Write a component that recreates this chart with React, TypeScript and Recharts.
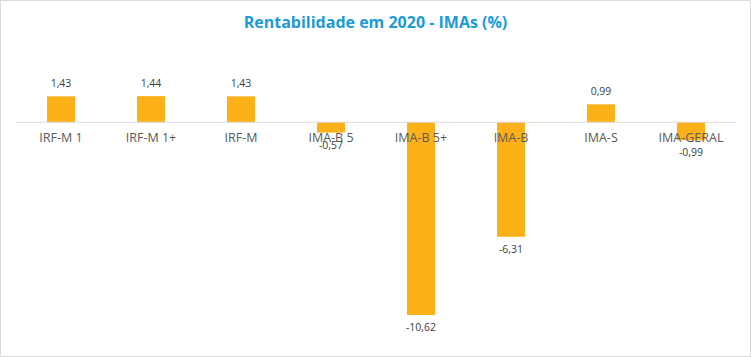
import { BarChart, Bar, XAxis, YAxis, ReferenceLine, LabelList } from "recharts";

const categories = ["IRF-M 1", "IRF-M 1+", "IRF-M", "IMA-B 5", "IMA-B 5+", "IMA-B", "IMA-S", "IMA-GERAL"];
const returns2020 = [1.43, 1.44, 1.43, -0.57, -10.62, -6.31, 0.99, -0.99];

const chartData = categories.map((name, i) => ({ name, value: returns2020[i] }));

const BAR_COLOR = "#FDB118";
const FONT = "'Open Sans', 'Liberation Sans', sans-serif";

const fmt = (v: number) => v.toFixed(2).replace(".", ",");

function ValueLabel(props: any) {
  const { x, y, width, height, value } = props;
  const top = Math.min(y, y + height);
  const bottom = Math.max(y, y + height);
  const cx = x + width / 2;
  const ty = value >= 0 ? top - 13 : bottom + 12;
  return (
    <text x={cx} y={ty} textAnchor="middle" dominantBaseline="central" fill="#404040" fontSize={10.5} fontFamily={FONT}>
      {fmt(value)}
    </text>
  );
}

function CategoryLabel(props: any) {
  const { x, y, width, height, value, index } = props;
  const v = returns2020[index];
  const zero = v >= 0 ? Math.max(y, y + height) : Math.min(y, y + height);
  return (
    <text x={x + width / 2} y={zero + 15} textAnchor="middle" dominantBaseline="central" fill="#595959" fontSize={12.5} fontFamily={FONT}>
      {value}
    </text>
  );
}

export default function App() {
  return (
    <div style={{ position: "absolute", left: 0, top: 0, width: 751, height: 357, background: "#fff" }}>
      <div
        style={{
          position: "absolute",
          left: 0,
          top: 10,
          width: 751,
          textAlign: "center",
          color: "#1C9AD6",
          fontFamily: FONT,
          fontWeight: 700,
          fontSize: 16,
          lineHeight: "24px",
        }}
      >
        Rentabilidade em 2020 - IMAs (%)
      </div>
      <BarChart width={751} height={357} data={chartData} margin={{ top: 86, right: 15, bottom: 17, left: 16 }}>
        <XAxis dataKey="name" hide />
        <YAxis hide domain={[-12, 2]} />
        <ReferenceLine y={0} stroke="#D9D9D9" strokeWidth={1} />
        <Bar dataKey="value" fill={BAR_COLOR} barSize={28} isAnimationActive={false}>
          <LabelList dataKey="value" content={<ValueLabel />} />
          <LabelList dataKey="name" content={<CategoryLabel />} />
        </Bar>
      </BarChart>
      <div
        style={{
          position: "absolute",
          left: 0,
          top: 0,
          width: 751,
          height: 357,
          boxSizing: "border-box",
          border: "1px solid #D9D9D9",
          pointerEvents: "none",
        }}
      />
    </div>
  );
}
